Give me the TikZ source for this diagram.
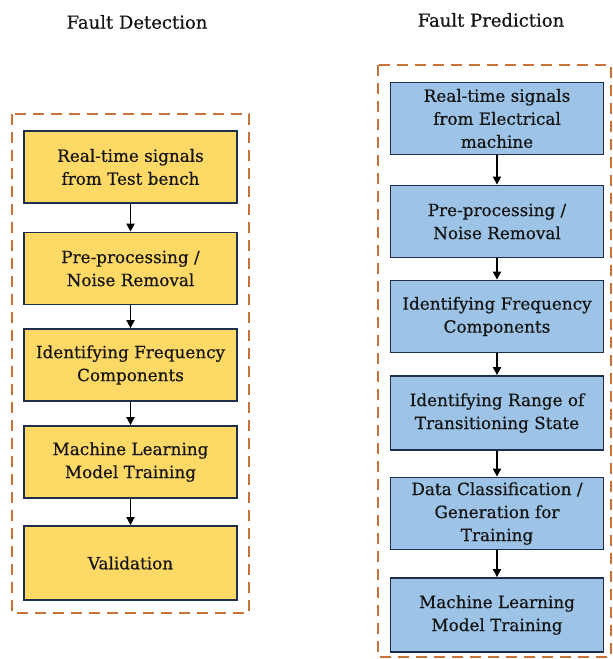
\documentclass[tikz,border=0pt]{standalone}
\usepackage{fontspec}
\setmainfont{DejaVu Serif}
\newfontfamily\stagefont[FakeBold=0.5]{DejaVu Serif}
\usetikzlibrary{arrows.meta}
\definecolor{boxgold}{HTML}{FFD966}
\definecolor{boxblue}{HTML}{9DC3E6}
\definecolor{boxedge}{HTML}{1F2E4A}
\definecolor{frameorange}{HTML}{C8733A}
\definecolor{inktext}{HTML}{141414}
\tikzset{
  stagebox/.style={draw=boxedge, line width=1.8pt, minimum width=213pt,
    minimum height=72pt, inner sep=0pt, align=center, text=inktext,
    font=\stagefont\fontsize{16.8}{23}\selectfont},
  goldbox/.style={stagebox, fill=boxgold},
  bluebox/.style={stagebox, fill=boxblue},
  flow/.style={draw=black, line width=1.8pt, -{Triangle[length=8pt,width=8pt]}},
  groupframe/.style={draw=frameorange, line width=1.8pt, dash pattern=on 11pt off 7pt},
  heading/.style={font=\stagefont\fontsize{18}{21}\selectfont, text=inktext}
}
\begin{document}
\begin{tikzpicture}[x=1pt,y=-1pt]
\useasboundingbox (0,0) rectangle (613,659);
\fill[white] (0,0) rectangle (613,659);

% headings
\node[heading] (hdet) at (137,22) {Fault Detection};
\node[heading] (hpre) at (491,20) {Fault Prediction};

% dashed group frames
\draw[groupframe] (12,114) rectangle (249,613);
\draw[groupframe] (378,65) rectangle (611,657);

% detection pipeline
\node[goldbox] (d1) at (130.5,167) {Real-time signals\\from Test bench};
\node[goldbox] (d2) at (130.5,268.5) {Pre-processing /\\Noise Removal};
\node[goldbox] (d3) at (130.5,365) {Identifying Frequency\\Components};
\node[goldbox] (d4) at (130.5,462) {Machine Learning\\Model Training};
\node[goldbox, minimum height=74pt] (d5) at (130.5,563) {Validation};

\draw[flow] (d1) -- (d2);
\draw[flow] (d2) -- (d3);
\draw[flow] (d3) -- (d4);
\draw[flow] (d4) -- (d5);

% prediction pipeline
\node[bluebox] (p1) at (497,118.5) {Real-time signals\\from Electrical\\machine};
\node[bluebox] (p2) at (497,221.5) {Pre-processing /\\Noise Removal};
\node[bluebox] (p3) at (497,316.5) {Identifying Frequency\\Components};
\node[bluebox, minimum height=74pt] (p4) at (497,413) {Identifying Range of\\Transitioning State};
\node[bluebox] (p5) at (497,513.5) {Data Classification /\\Generation for\\Training};
\node[bluebox, minimum height=74pt] (p6) at (497,615) {Machine Learning\\Model Training};

\draw[flow] (p1) -- (p2);
\draw[flow] (p2) -- (p3);
\draw[flow] (p3) -- (p4);
\draw[flow] (p4) -- (p5);
\draw[flow] (p5) -- (p6);
\end{tikzpicture}
\end{document}
